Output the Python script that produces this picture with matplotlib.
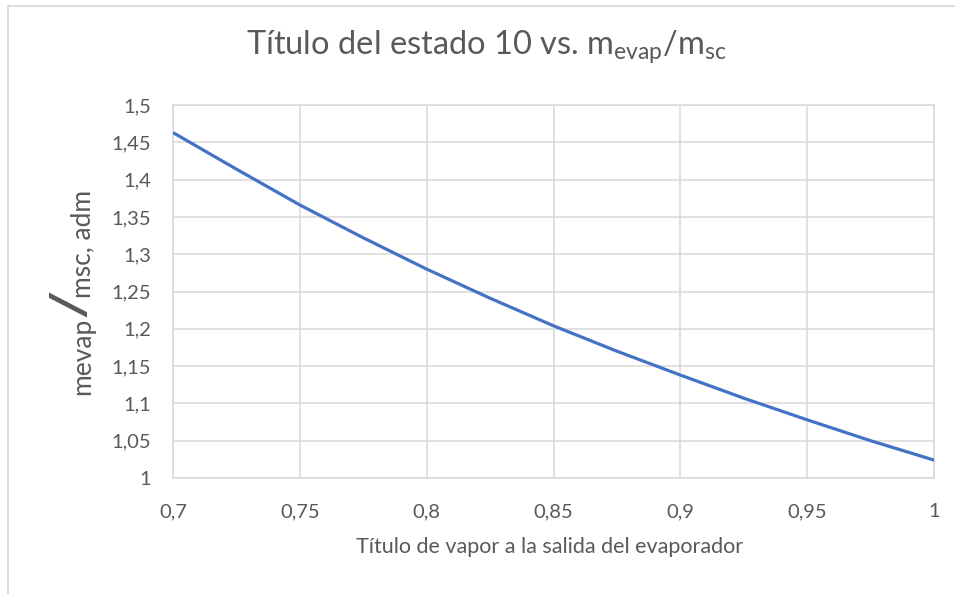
import matplotlib
matplotlib.use("Agg")
import matplotlib.pyplot as plt
from matplotlib.lines import Line2D
from matplotlib.ticker import FuncFormatter

# ---- data ----
titulo_vapor = [0.7, 0.725, 0.75, 0.775, 0.8, 0.825, 0.85, 0.875, 0.9, 0.925, 0.95, 0.975, 1.0]
razon_masas = [1.463, 1.414, 1.366, 1.322, 1.280, 1.241, 1.204, 1.170, 1.138, 1.107, 1.078, 1.050, 1.024]
x_ticks = [0.7, 0.75, 0.8, 0.85, 0.9, 0.95, 1.0]
y_ticks = [1.0, 1.05, 1.1, 1.15, 1.2, 1.25, 1.3, 1.35, 1.4, 1.45, 1.5]

FONT = "Lato"
TXT = "#595959"
GRID = "#d9d9d9"
LINE = "#4472C4"

plt.rcParams["font.family"] = [FONT, "DejaVu Sans"]
plt.rcParams["mathtext.fontset"] = "custom"
plt.rcParams["mathtext.rm"] = FONT
plt.rcParams["mathtext.it"] = FONT

W, H = 955, 594
fig = plt.figure(figsize=(W / 100, H / 100), dpi=100)
fig.patch.set_facecolor("white")

L, R, T, B = 173, 934, 105, 478
ax = fig.add_axes([L / W, (H - B) / H, (R - L) / W, (B - T) / H])

ax.plot(titulo_vapor, razon_masas, color=LINE, lw=2.3, solid_capstyle="butt", zorder=3)

ax.set_xlim(0.7, 1.0)
ax.set_ylim(1.0, 1.5)
ax.set_xticks(x_ticks)
ax.set_yticks(y_ticks)

def fmt(v, pos):
    s = f"{v:.2f}".rstrip("0").rstrip(".")
    return s.replace(".", ",")

ax.xaxis.set_major_formatter(FuncFormatter(fmt))
ax.yaxis.set_major_formatter(FuncFormatter(fmt))
ax.grid(True, color=GRID, lw=1.1)
ax.set_axisbelow(True)
for s in ax.spines.values():
    s.set_color(GRID)
    s.set_linewidth(1.1)
ax.tick_params(length=0, labelsize=14.5, labelcolor=TXT)
ax.tick_params(axis="x", pad=18)
ax.tick_params(axis="y", pad=16)

# chart border (only top and left visible in the crop)
fig.add_artist(Line2D([8 / W, 8 / W], [0, 1 - 6 / H], color=GRID, lw=1.3, transform=fig.transFigure))
fig.add_artist(Line2D([8 / W, 1], [1 - 6 / H, 1 - 6 / H], color=GRID, lw=1.3, transform=fig.transFigure))

# title
fig.text(486 / W, 1 - 47 / H,
         r"Título del estado 10 vs. m$_{\mathrm{evap}}$/m$_{\mathrm{sc}}$",
         ha="center", va="center", fontsize=23.5, color=TXT)

# x label
fig.text(550 / W, 1 - 547 / H, "Título de vapor a la salida del evaporador",
         ha="center", va="center", fontsize=15.5, color=TXT)

# y label composed of pieces
fig.canvas.draw()
renderer = fig.canvas.get_renderer()
xb = 90 / W
y0 = (H - 395) / H
t1 = fig.text(xb, y0, "mevap", rotation=90, rotation_mode="anchor",
              ha="left", va="baseline", fontsize=19, color=TXT)
bb = t1.get_window_extent(renderer)
t2 = fig.text(89 / W, (bb.y1 + 1) / H, "/", rotation=90, rotation_mode="anchor",
              ha="left", va="baseline", fontsize=34, color=TXT,
              family="DejaVu Sans", style="italic", fontweight="bold")
bb2 = t2.get_window_extent(renderer)
fig.text(xb, (bb2.y1 + 1) / H, "msc, adm", rotation=90, rotation_mode="anchor",
         ha="left", va="baseline", fontsize=19, color=TXT)

fig.savefig("out.png", dpi=100, facecolor="white")
